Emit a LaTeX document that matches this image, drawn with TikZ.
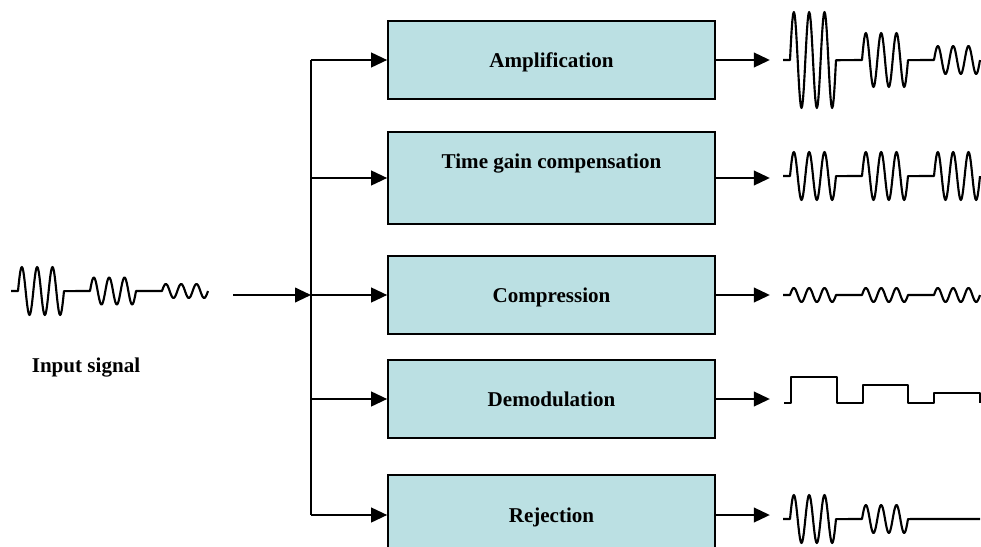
\documentclass[tikz,border=0pt]{standalone}
\usepackage{fontspec}
\setmainfont{Liberation Serif}
\usetikzlibrary{arrows.meta}

\definecolor{boxblue}{RGB}{187,224,227}

\newcommand{\wave}[5]{%
\draw[SignalStyle] ({#1-7},#2) -- (#1,#2)
  -- plot[domain = 0:3, samples = 61] ({#1+\x*15.333}, {#2-#3*sin(\x*360)})
  -- ({#1+72},#2)
  -- plot[domain = 0:3, samples = 61] ({#1+72+\x*15.333}, {#2-#4*sin(\x*360)})
  -- ({#1+144},#2)
  -- plot[domain = 0:3, samples = 61] ({#1+144+\x*15.333}, {#2-#5*sin(\x*360)});
}

\begin{document}
\begin{tikzpicture}[x = 0.75pt, y = -0.75pt]
\tikzstyle{BlockStyle}=[draw, fill = boxblue,
                        line width = 1.5pt,
                        minimum width = 245pt,
                        minimum height = 58.5pt,
                        text depth = 0pt,
                        font = \bfseries\fontsize{15.8}{18}\selectfont]
\tikzstyle{LabelStyle}=[text depth = 0pt, font = \bfseries\fontsize{15.8}{18}\selectfont]
\tikzstyle{ArrowStyle}=[line width = 1.5pt, -{Triangle[length = 12pt, width = 11pt]}]
\tikzstyle{SignalStyle}=[line width = 1.6pt, line join = round]
\useasboundingbox (0,0) rectangle (981,546);
\clip (0,0) rectangle (981,546);
\node[BlockStyle] (amp) at (551.5,60) {Amplification};
\node[BlockStyle, minimum height = 69pt] (tgc) at (551.5,178) {};
\node[LabelStyle] (tgctext) at (551.5,161) {Time gain compensation};
\node[BlockStyle] (cmp) at (551.5,295) {Compression};
\node[BlockStyle] (dem) at (551.5,399) {Demodulation};
\node[BlockStyle, minimum height = 60pt] (rej) at (551.5,515) {Rejection};
\node[LabelStyle] (input) at (86,365) {Input signal};
\coordinate (in) at (233,295);
\coordinate (bus) at (311,295);
\draw[ArrowStyle] (in) -- (bus);
\draw[line width = 1.5pt] (bus |- amp) -- (bus |- rej);
\foreach \n in {amp, tgc, cmp, dem, rej}{
  \draw[ArrowStyle] (bus |- \n) -- (\n.west);
  \draw[ArrowStyle] (\n.east) -- ++(54,0);
}
\wave{18}{291}{24}{13.5}{7}
\wave{790}{60}{48}{27}{14}
\wave{790}{176}{24}{24}{24}
\wave{790}{295}{7}{7}{7}
\wave{790}{519}{24}{14}{0}
\draw[SignalStyle] (784,403) -- (791,403) -- (791,377) -- (837,377) -- (837,403)
  -- (863,403) -- (863,385) -- (908,385) -- (908,403) -- (934,403) -- (934,393)
  -- (980,393) -- (980,403);
\end{tikzpicture}
\end{document}
